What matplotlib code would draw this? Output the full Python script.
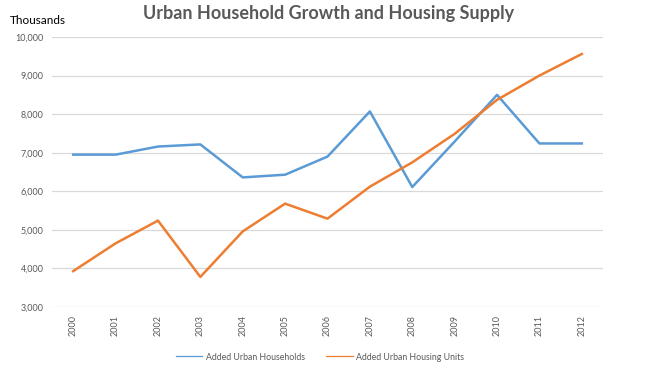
import matplotlib
matplotlib.use("Agg")
import matplotlib.pyplot as plt

years = ["2000", "2001", "2002", "2003", "2004", "2005", "2006",
         "2007", "2008", "2009", "2010", "2011", "2012"]
households = [6950, 6950, 7160, 7215, 6360, 6430, 6900,
              8070, 6110, 7290, 8500, 7240, 7240]
housing_units = [3930, 4650, 5240, 3780, 4960, 5680, 5290,
                 6120, 6750, 7490, 8370, 9000, 9560]
yticks = [3000, 4000, 5000, 6000, 7000, 8000, 9000, 10000]

plt.rcParams['font.family'] = ['Lato', 'DejaVu Sans']

fig = plt.figure(figsize=(6.46, 3.73), dpi=100)
ax = fig.add_axes([52/646, 1-307/373, (603-52)/646, (307-37)/373])

x = list(range(len(years)))
ax.plot(x, households, color="#5B9BD5", lw=1.8, label="Added Urban Households", zorder=3)
ax.plot(x, housing_units, color="#ED7D31", lw=1.8, label="Added Urban Housing Units", zorder=3)

ax.set_xlim(-0.5, len(years) - 0.5)
ax.set_ylim(3000, 10000)
ax.set_yticks(yticks)
ax.set_yticklabels([f"{v:,}" for v in yticks], fontsize=6.5, color="#595959")
ax.set_xticks(x)
ax.set_xticklabels(years, rotation=90, fontsize=6.5, color="#595959")
ax.tick_params(axis="both", length=0, pad=6)
ax.grid(axis="y", color="#D9D9D9", lw=0.9)
ax.set_axisbelow(True)
for s in ax.spines.values():
    s.set_visible(False)

fig.text(10/646, 1-20/373, "Thousands", fontsize=8.5, color="#000000", va="center", ha="left")
fig.text(329/646, 1-14/373, "Urban Household Growth and Housing Supply",
         fontsize=13, fontweight="bold", color="#595959", ha="center", va="center")

leg = fig.legend(loc="center", bbox_to_anchor=(320/646, 1-357/373), ncol=2, frameon=False,
                 fontsize=6.3, handlelength=3.0, handletextpad=0.4, columnspacing=2.5)
for line in leg.get_lines():
    line.set_linewidth(0.9)
for t in leg.get_texts():
    t.set_color("#595959")

fig.savefig("out.png", dpi=100)
